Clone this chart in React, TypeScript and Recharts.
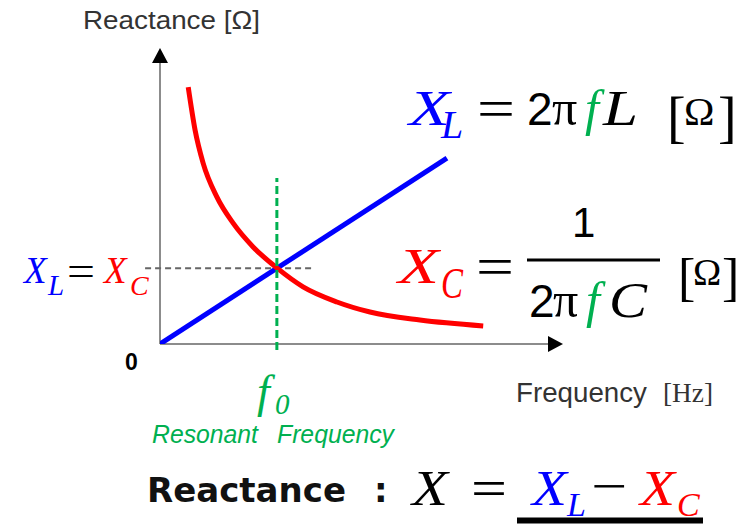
import React from "react";
import { ComposedChart, Line, XAxis, YAxis, ReferenceLine, ReferenceDot } from "recharts";

// ---- data (frequency in arbitrary units, reactance in arbitrary units) ----
const resonantFrequency = 2.9;
const crossingReactance = 2.56;

const inductiveFreq = [0, 7.12];
const inductiveReactance = [0, 6.28];

const capacitiveFreq = [0.7, 0.87, 1.07, 1.41, 1.81, 2.31, 2.9, 3.55, 4.39, 5.21, 6.45, 8.02];
const capacitiveReactance = [8.68, 7.23, 6.11, 4.97, 4.09, 3.28, 2.57, 1.93, 1.42, 1.08, 0.81, 0.61];

const xlData = inductiveFreq.map((f, i) => ({ f, v: inductiveReactance[i] }));
const xcData = capacitiveFreq.map((f, i) => ({ f, v: capacitiveReactance[i] }));

const SANS = "'Liberation Sans', Arial, sans-serif";
const SERIF = "'Liberation Serif', 'Times New Roman', serif";
const BOLD = "'DejaVu Sans', Verdana, sans-serif";
const BLUE = "#0000ff";
const RED = "#ff0000";
const GREEN = "#00b050";
const AXIS = "#8c8c8c";

type TP = {
  x: number; y: number; s: number; f?: string; c?: string; it?: boolean; b?: boolean; len?: number; children: React.ReactNode;
};
const T = ({ x, y, s, f = SERIF, c = "#000", it = false, b = false, len, children }: TP) => (
  <text
    x={x}
    y={y}
    fontSize={s}
    fontFamily={f}
    fill={c}
    fontStyle={it ? "italic" : "normal"}
    fontWeight={b ? "bold" : "normal"}
    {...(len ? { textLength: len, lengthAdjust: "spacingAndGlyphs" } : {})}
  >
    {children}
  </text>
);

const ArrowRight = (p: any) => (
  <polygon points={`${p.cx},${p.cy} ${p.cx - 15},${p.cy - 8} ${p.cx - 15},${p.cy + 8}`} fill="#000" />
);
const ArrowUp = (p: any) => (
  <polygon points={`${p.cx},${p.cy} ${p.cx - 8},${p.cy + 15} ${p.cx + 8},${p.cy + 15}`} fill="#000" />
);

const Annotations = () => (
  <g>
    {/* axis titles */}
    <T x={83} y={29} s={26} f={SANS} c="#333" len={177}>Reactance [Ω]</T>
    <T x={516} y={402} s={27} f={SANS} c="#333" len={131}>Frequency</T>
    <T x={663} y={402} s={28} f={SERIF} c="#333" len={50}>[Hz]</T>
    <T x={125} y={370} s={23} f={SANS} b>0</T>

    {/* X_L = X_C left label */}
    <T x={24} y={283} s={37} it c={BLUE}>X</T>
    <T x={48} y={295} s={29} it c={BLUE}>L</T>
    <T x={67} y={285} s={42} len={28}>=</T>
    <T x={104} y={283} s={37} it c={RED}>X</T>
    <T x={130} y={295} s={28} it c={RED}>C</T>

    {/* X_L = 2πfL [Ω] */}
    <T x={409} y={125} s={50} it c={BLUE} len={41}>X</T>
    <T x={441} y={138} s={40} it c={BLUE}>L</T>
    <T x={477} y={127} s={54} len={38}>=</T>
    <T x={527} y={125} s={46} f={SANS}>2</T>
    <T x={552} y={125} s={50}>π</T>
    <T x={585} y={125} s={50} it c={GREEN}>f</T>
    <T x={603} y={125} s={50} it len={35}>L</T>
    <T x={667} y={136} s={56}>[</T>
    <T x={684} y={125} s={41}>Ω</T>
    <T x={718} y={136} s={56}>]</T>

    {/* X_C = 1 / (2πfC) [Ω] */}
    <T x={398} y={283} s={50} it c={RED} len={41}>X</T>
    <T x={441} y={298} s={44} it c={RED} len={22}>C</T>
    <T x={476} y={285} s={54} len={38}>=</T>
    <T x={572} y={237} s={42} f={SANS}>1</T>
    <line x1={527} y1={260} x2={660} y2={260} stroke="#000" strokeWidth={3} />
    <T x={529} y={317} s={46} f={SANS}>2</T>
    <T x={553} y={317} s={50}>π</T>
    <T x={586} y={317} s={50} it c={GREEN}>f</T>
    <T x={609} y={317} s={50} it len={38}>C</T>
    <T x={678} y={295} s={52}>[</T>
    <T x={693} y={285} s={38}>Ω</T>
    <T x={722} y={295} s={52}>]</T>

    {/* f0 label */}
    <T x={257} y={407} s={46} it c={GREEN}>f</T>
    <T x={275} y={414} s={29} it c={GREEN}>0</T>
    <T x={152} y={443} s={25} f={SANS} it c={GREEN} len={106}>Resonant</T>
    <T x={277} y={443} s={25} f={SANS} it c={GREEN} len={117}>Frequency</T>

    {/* bottom equation */}
    <line x1={517} y1={520.5} x2={703} y2={520.5} stroke="#000" strokeWidth={6} />
    <T x={147} y={502} s={34} f={BOLD} b c="#111">Reactance</T>
    <T x={374} y={502} s={34} f={BOLD} b c="#111">:</T>
    <T x={412} y={505} s={50} it len={36}>X</T>
    <T x={471} y={506} s={52} len={36}>=</T>
    <T x={532} y={505} s={50} it c={BLUE} len={35}>X</T>
    <T x={567} y={516} s={34} it c={BLUE}>L</T>
    <T x={591} y={503} s={50} len={36}>−</T>
    <T x={640} y={505} s={50} it c={RED} len={35}>X</T>
    <T x={677} y={516} s={34} it c={RED}>C</T>
  </g>
);

export default function App() {
  return (
    <div style={{ position: "absolute", left: 0, top: 0, background: "#fff" }}>
      <ComposedChart width={741} height={525} margin={{ top: 48, right: 178, bottom: 181, left: 160 }}>
        <XAxis type="number" dataKey="f" domain={[0, 10]} allowDataOverflow hide />
        <YAxis type="number" domain={[0, 10]} allowDataOverflow hide />
        {/* axes drawn through the chart scales */}
        <ReferenceLine
          segment={[{ x: 0, y: 0 }, { x: 9.7, y: 0 }]}
          stroke={AXIS}
          strokeWidth={2}
          ifOverflow="visible"
        />
        <ReferenceLine
          segment={[{ x: 0, y: 0 }, { x: 0, y: 9.6 }]}
          stroke={AXIS}
          strokeWidth={2}
          ifOverflow="visible"
        />
        <ReferenceLine
          segment={[
            { x: -0.37, y: crossingReactance },
            { x: 3.8, y: crossingReactance },
          ]}
          stroke="#666"
          strokeWidth={2}
          strokeDasharray="6 4"
          ifOverflow="visible"
        />
        <Line data={xlData} dataKey="v" type="linear" stroke={BLUE} strokeWidth={5} dot={false} activeDot={false} isAnimationActive={false} />
        <Line data={xcData} dataKey="v" type="monotone" stroke={RED} strokeWidth={5} dot={false} activeDot={false} isAnimationActive={false} />
        <ReferenceLine
          segment={[
            { x: resonantFrequency, y: -0.2 },
            { x: resonantFrequency, y: 5.61 },
          ]}
          stroke={GREEN}
          strokeWidth={3}
          strokeDasharray="8 4"
          ifOverflow="visible"
        />
        <ReferenceDot x={10} y={0} r={8} shape={ArrowRight} ifOverflow="visible" />
        <ReferenceDot x={0} y={10} r={8} shape={ArrowUp} ifOverflow="visible" />
        <Annotations />
      </ComposedChart>
    </div>
  );
}
